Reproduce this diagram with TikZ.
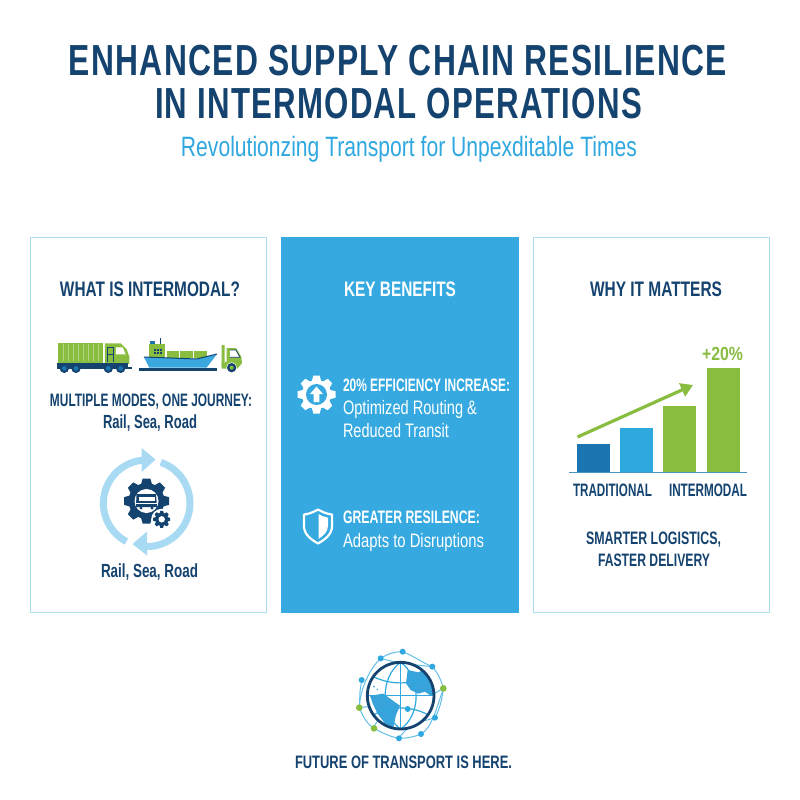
\documentclass[tikz,border=0pt]{standalone}
\usepackage{graphicx}
\usepackage{fontspec}
\setmainfont{Liberation Sans}
\usetikzlibrary{arrows.meta}
\definecolor{navy}{HTML}{15436F}
\definecolor{sky}{HTML}{2FA8E0}
\definecolor{panelblue}{HTML}{35A9E0}
\definecolor{edgeblue}{HTML}{ABDDF1}
\definecolor{paleblue}{HTML}{A9DAF3}
\definecolor{leaf}{HTML}{88BD40}
\definecolor{deepblue}{HTML}{1B75B0}
\definecolor{hull}{HTML}{3AA8DF}
\tikzset{
  txt/.style={inner sep=0pt,outer sep=0pt,anchor=base},
  titletxt/.style={txt,text=navy,font=\fontsize{43.5}{43.5}\selectfont\bfseries\addfontfeature{LetterSpace=4}},
  subtxt/.style={txt,text=sky,font=\fontsize{28}{28}\selectfont},
  headtxt/.style={txt,text=navy,font=\fontsize{21}{21}\selectfont\bfseries},
  boldtxt/.style={txt,text=navy,font=\fontsize{18}{18}\selectfont\bfseries},
  regtxt/.style={txt,text=navy,font=\fontsize{19}{19}\selectfont\bfseries},
  panel/.style={draw=edgeblue,line width=1.4pt,fill=white},
  cardtxt/.style={txt,text=white,font=\fontsize{18}{18}\selectfont\bfseries},
  cardreg/.style={txt,text=white,font=\fontsize{19.5}{19.5}\selectfont},
  net/.style={draw=sky!75,line width=1pt},
  gridline/.style={draw=sky,line width=1.2pt}
}
\newcommand{\tline}[6]{%
  \pgfmathsetmacro\tlw{#3-#2}\pgfmathsetmacro\tlc{(#2+#3)/2}%
  \node[#5] (#1) at (\tlc,#4) {\resizebox{\tlw pt}{\height}{#6}};}
\newcommand{\gearicon}[6]{% cx cy router rbody teeth colour
  \begin{scope}[shift={(#1,#2)}]
    \fill[#6] (0,0) circle (#4);
    \pgfmathsetmacro\gearstep{360/#5}
    \foreach \k in {1,...,#5}{
      \pgfmathsetmacro\gearang{\k*\gearstep}
      \fill[#6,rotate=\gearang] (-#3*0.25,0) -- (-#3*0.25,#4*0.9) -- (-#3*0.17,#3) -- (#3*0.17,#3) -- (#3*0.25,#4*0.9) -- (#3*0.25,0) -- cycle;
    }
  \end{scope}}
\begin{document}
\begin{tikzpicture}[x=1pt,y=-1pt]
\useasboundingbox (0,0) rectangle (800,800);
\fill[white] (0,0) rectangle (800,800);

% Title
\tline{t1}{69}{727}{75.5}{titletxt}{ENHANCED SUPPLY CHAIN RESILIENCE}
\tline{t2}{155}{642}{118}{titletxt}{IN INTERMODAL OPERATIONS}
\tline{t3}{181}{637}{156.5}{subtxt}{Revolutionzing Transport for Unpexditable Times}

% Panels
\draw[panel] (30.5,237.5) rectangle (266.5,612.5);
\fill[panelblue] (281,237) rectangle (519,613);
\draw[panel] (533.5,237.5) rectangle (769.5,612.5);

% Headers
\tline{h1}{60}{240}{296.5}{headtxt}{WHAT IS INTERMODAL?}
\tline{h2}{344}{456}{296.5}{headtxt,text=white}{KEY BENEFITS}
\tline{h3}{590}{722}{296.5}{headtxt}{WHY IT MATTERS}

% Vehicles
\begin{scope}[shift={(30,320)},x=0.3333pt,y=-0.3333pt]
  % truck
  \fill[leaf] (85,68) rectangle (218,128);
  \foreach \s in {100,115,...,205}{\draw[white!35!leaf,line width=0.7pt] (\s,72) -- (\s,124);}
  \fill[leaf] (225,70) -- (272,70) -- (290,88) -- (298,110) -- (298,132) -- (225,132) -- cycle;
  \fill[white] (258,82) -- (278,82) -- (287,103) -- (258,103) -- cycle;
  \draw[navy,line width=0.9pt] (233,125) -- (233,82) -- (250,82) -- (250,125);
  \draw[navy,line width=0.9pt] (233,104) -- (250,104);
  \fill[navy] (80,130) rectangle (295,146);
  \fill[navy] (295,140) rectangle (306,146);
  \foreach \w in {103,138,235,272}{
    \fill[navy] (\w,145) circle (14);
    \fill[deepblue] (\w,145) circle (7);
  }
  % ship
  \fill[navy] (328,145) rectangle (562,152);
  \fill[leaf] (410,92) rectangle (448,113);
  \fill[leaf] (451,92) rectangle (489,113);
  \fill[leaf] (492,92) rectangle (531,113);
  \fill[leaf] (357,72) rectangle (405,113);
  \fill[deepblue] (360,62) rectangle (375,72);
  \draw[navy,line width=0.8pt] (390,55) -- (390,72);
  \foreach \a in {372,381,390}{\fill[navy] (\a,87) rectangle ++(6,5);\fill[navy] (\a,96) rectangle ++(6,5);}
  \fill[hull] (342,111) -- (500,117) -- (561,102) -- (530,143) -- (358,143) -- cycle;
  \draw[navy,line width=1pt] (342,111) -- (500,117) -- (561,102);
  % small truck
  \fill[leaf] (575,75) -- (584,75) -- (584,125) -- (575,140) -- cycle;
  \fill[leaf] (590,84) -- (618,84) -- (634,110) -- (636,130) -- (622,146) -- (575,146) -- (575,130) -- (590,125) -- cycle;
  \fill[white] (600,90) -- (618,90) -- (630,112) -- (600,112) -- cycle;
  \draw[navy,line width=0.8pt] (600,90) -- (618,90) -- (630,112) -- (600,112);
  \fill[white] (605,143) circle (16);
  \fill[navy] (605,143) circle (14);
  \fill[leaf] (605,143) circle (6);
\end{scope}

\tline{m1}{50}{252}{406}{boldtxt}{MULTIPLE MODES, ONE JOURNEY:}
\tline{m2}{103}{197}{428}{regtxt}{Rail, Sea, Road}

% Cycle
\def\cyx{146.7}\def\cyy{503.3}\def\cyr{43.3}
\draw[paleblue,line width=7pt] plot[domain=90:242,samples=50] ({\cyx+\cyr*cos(\x)},{\cyy-\cyr*sin(\x)});
\draw[paleblue,line width=7pt] plot[domain=71:-90,samples=60] ({\cyx+\cyr*cos(\x)},{\cyy-\cyr*sin(\x)});
\fill[paleblue] (141.7,448) -- (155.5,459.5) -- (141.7,472) -- cycle;
\fill[paleblue] (147,531.5) -- (132.5,544) -- (147,555.5) -- cycle;
\gearicon{146.5}{501}{22.5}{18}{8}{navy}
\fill[white] (146.5,501) circle (12);
\fill[navy] (136.5,494) -- (156,494) -- (157,507) -- (136,507) -- cycle;
\fill[white] (138.5,497) rectangle (154.5,500.5);
\fill[white] (136,503.2) rectangle (157,504.2);
\fill[navy] (141,508) circle (1.6);
\fill[navy] (152,508) circle (1.6);
\fill[white] (161.7,519.3) circle (10.5);
\gearicon{161.7}{519.3}{8.5}{6.5}{8}{navy}
\fill[white] (161.7,519.3) circle (3.2);
\tline{m3}{101}{198}{577}{regtxt}{Rail, Sea, Road}

% Key benefits
\gearicon{316.5}{394.5}{19}{14.5}{8}{white}
\fill[panelblue] (316.5,394.5) circle (10.5);
\fill[white] (316.5,386.5) -- (323,394) -- (319.3,394) -- (319.3,402) -- (313.7,402) -- (313.7,394) -- (310,394) -- cycle;
\tline{b1}{343}{510}{391}{cardtxt}{20\% EFFICIENCY INCREASE:}
\tline{b2}{343}{477}{414}{cardreg}{Optimized Routing \&}
\tline{b3}{343}{449}{437.5}{cardreg}{Reduced Transit}

\draw[white,line width=2.2pt,line join=round] (318,509.5) .. controls (312,513) and (308,514) .. (304,514.5) -- (304,526) .. controls (304,535) and (312,540) .. (318,543.5) .. controls (324,540) and (332,535) .. (332,526) -- (332,514.5) .. controls (328,514) and (324,513) .. (318,509.5) -- cycle;
\fill[white] (318.5,514) .. controls (322,516) and (325,517.3) .. (328,517.7) -- (328,526) .. controls (328,532) and (323,536) .. (318.5,539) -- cycle;
\tline{b4}{343}{480}{523}{cardtxt}{GREATER RESILENCE:}
\tline{b5}{343}{484}{547}{cardreg}{Adapts to Disruptions}

% Chart
\fill[deepblue] (577,444) rectangle (609.5,472);
\fill[sky] (620,428) rectangle (653,472);
\fill[leaf] (663,406) rectangle (696,472);
\fill[leaf] (707,368) rectangle (739.5,472);
\coordinate (axl) at (569,472.5);
\coordinate (axr) at (747,472.5);
\draw[deepblue!80,line width=0.9pt] (axl) -- (axr);
\coordinate (ars) at (577.5,437);
\coordinate (are) at (693,385);
\draw[leaf,line width=3.2pt,-{Triangle[length=12pt,width=14pt]}] (ars) -- (are);
\tline{r0}{702}{743}{360}{headtxt,text=leaf,font=\fontsize{19}{19}\selectfont\bfseries}{+20\%}
\tline{r1}{573}{652}{496}{boldtxt}{TRADITIONAL}
\tline{r2}{669}{747}{496}{boldtxt}{INTERMODAL}
\tline{r3}{586}{721}{544.5}{boldtxt}{SMARTER LOGISTICS,}
\tline{r4}{598}{710}{566.5}{boldtxt}{FASTER DELIVERY}

% Globe
\begin{scope}[shift={(340,635)},x=0.3333pt,y=-0.3333pt]
  \coordinate (g1) at (188,50);
  \coordinate (g2) at (122,70);
  \coordinate (g3) at (277,95);
  \coordinate (g4) at (65,135);
  \coordinate (g5) at (310,160);
  \coordinate (g6) at (58,218);
  \coordinate (g7) at (285,248);
  \coordinate (g8) at (102,280);
  \coordinate (g9) at (243,297);
  \coordinate (g10) at (177,310);
  \coordinate (g11) at (203,222);
  \draw[net] (g2) .. controls (145,55) and (165,50) .. (g1) .. controls (220,62) and (250,85) .. (g3) .. controls (295,115) and (305,140) .. (g5) .. controls (305,210) and (290,240) .. (g7);
  \draw[net] (g4) -- (60,170) -- (g6) .. controls (70,250) and (85,270) .. (g8) .. controls (130,295) and (150,305) .. (g10) .. controls (200,310) and (225,305) .. (g9) .. controls (275,280) and (290,220) .. (g5);
  \draw[net] (g2) .. controls (90,100) and (60,160) .. (g6);
  \draw[net] (g6) .. controls (100,210) and (160,225) .. (g11) -- (g5);
  \draw[net] (g2) .. controls (170,85) and (230,90) .. (g3);
  \draw[net] (g8) .. controls (110,240) and (160,230) .. (g11);
  \draw[net] (g10) .. controls (210,260) and (250,260) .. (g7);
  % globe
  \fill[white] (182,182) circle (100);
  \begin{scope}
    \clip (182,182) circle (100);
    \fill[hull!90!deepblue] (203,105) -- (235,112) -- (250,105) -- (290,110) -- (295,172) -- (272,182) -- (255,170) -- (235,176) -- (212,165) -- (198,145) -- cycle;
    \fill[hull!90!deepblue] (90,182) -- (130,176) -- (160,198) -- (180,212) -- (168,240) -- (160,278) -- (135,266) -- (112,235) -- (98,205) -- cycle;
    \fill[hull] (102,155) circle (3);
    \fill[hull] (112,163) circle (2.5);
    \draw[gridline] (182,82) -- (182,282);
    \draw[gridline] (182,82) .. controls (120,125) and (120,240) .. (182,282);
    \draw[gridline] (182,82) .. controls (244,125) and (244,240) .. (182,282);
    \draw[gridline] (82,182) -- (282,182);
    \draw[gridline] (100,125) .. controls (150,150) and (215,150) .. (265,125);
    \draw[gridline] (100,240) .. controls (150,212) and (215,212) .. (265,240);
  \end{scope}
  \draw[navy,line width=2.8pt] (182,182) circle (100);
  \foreach \p in {g1,g2,g3,g4,g7,g9,g10,g11}{\fill[sky] (\p) circle (9);}
  \foreach \p in {g5,g6,g8}{\fill[leaf] (\p) circle (10);}
\end{scope}

\tline{f1}{295}{512}{768.5}{boldtxt}{FUTURE OF TRANSPORT IS HERE.}
\end{tikzpicture}
\end{document}
